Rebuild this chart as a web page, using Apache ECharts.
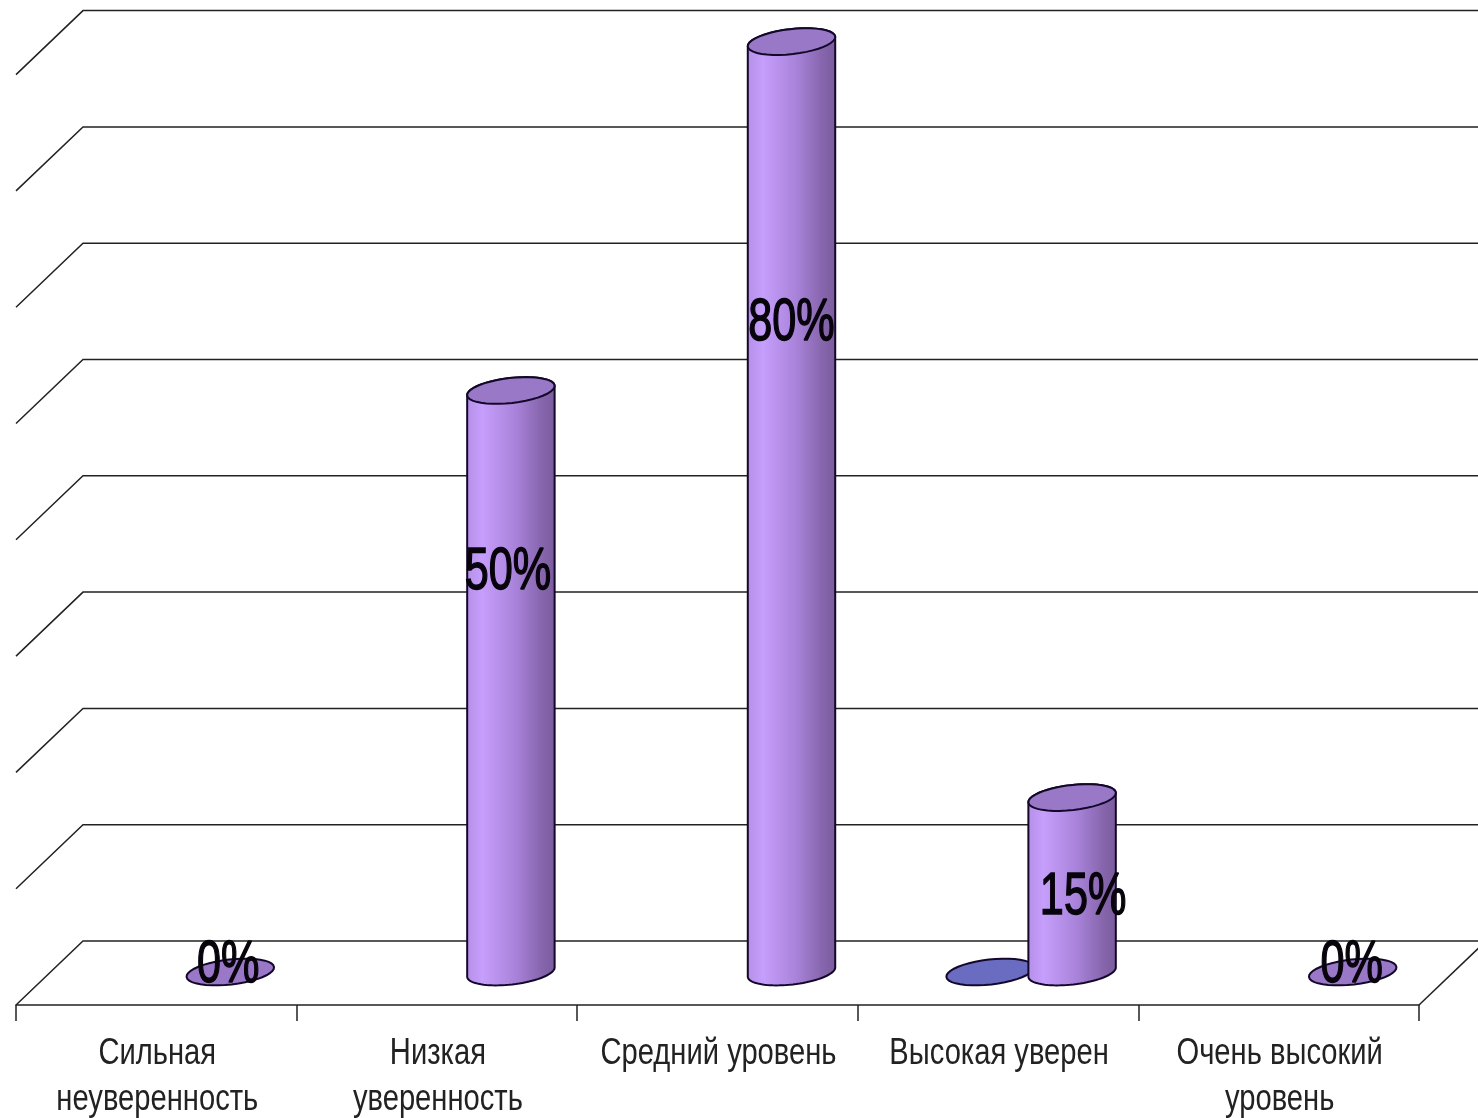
<!DOCTYPE html>
<html><head><meta charset="utf-8">
<style>html,body{margin:0;padding:0;background:#fff}#c{width:1478px;height:1118px}</style>
<script src="https://cdn.jsdelivr.net/npm/echarts@6/dist/echarts.min.js"></script>
</head><body><div id="c"></div>
<script>
const categories = ['Сильная\nнеуверенность','Низкая\nуверенность','Средний уровень','Высокая уверен','Очень высокий\nуровень'];
const purpleValues = [0,50,80,15,0];
const blueValues = [null,null,null,0,null];
const valueTicks = [0,10,20,30,40,50,60,70,80];
const purpleLabels = ['0%','50%','80%','15%','0%'];

const DX = 67, DY = -64, RX = 44, RY = 12.5, TILT = -6.5*Math.PI/180, MIDX = 33, MIDY = -33, SHIFT = 41;
const labelY = [965,572,323,897,965], labelDX = [-2,-3,0,11,-1];

function arc(cx,cy,a,b){
  const pts=[], n=40;
  for(let i=0;i<=n;i++){
    const t=a+(b-a)*i/n, c=Math.cos(t), s=Math.sin(t);
    pts.push([cx+RX*c*Math.cos(TILT)-RY*s*Math.sin(TILT), cy+RX*c*Math.sin(TILT)+RY*s*Math.cos(TILT)]);
  }
  return pts;
}
const bodyFill = {type:'linear',x:0,y:0,x2:1,y2:0,colorStops:[
  {offset:0,color:'#b48fe6'},{offset:.18,color:'#c69efc'},{offset:.55,color:'#a983da'},{offset:.85,color:'#8665ac'},{offset:1,color:'#7a5c9c'}]};

function cylinder(offset,topColor,withLabel){
  return function(params,api){
    const idx=api.value(0), v=api.value(1);
    const base=api.coord([idx,0]), top=api.coord([idx,v]);
    const cx=base[0]+MIDX+offset, by=base[1]+MIDY, ty=top[1]+MIDY;
    const stroke={stroke:'#14082a',lineWidth:2};
    const children=[];
    if(v>0){
      children.push({type:'polygon',shape:{points:arc(cx,by,0,Math.PI).concat(arc(cx,ty,Math.PI,2*Math.PI))},
        style:Object.assign({fill:bodyFill},stroke)});
    }
    children.push({type:'polygon',shape:{points:arc(cx,ty,0,2*Math.PI)},style:Object.assign({fill:topColor},stroke)});
    if(withLabel){
      children.push({type:'text',x:cx+labelDX[idx],y:labelY[idx],scaleX:.72,
        style:{text:purpleLabels[idx],align:'center',verticalAlign:'middle',
          font:'60px "Liberation Sans",sans-serif',fill:'#08040c',stroke:'#08040c',lineWidth:1.5}});
    }
    return {type:'group',children};
  };
}

const chart = echarts.init(document.getElementById('c'));
chart.setOption({
  animation:false,
  backgroundColor:'#fff',
  grid:{left:16,width:1403,top:74.6,height:930.4,outerBoundsMode:'none'},
  xAxis:{type:'category',data:categories,boundaryGap:true,
    axisLine:{lineStyle:{color:'#222',width:1.5}},
    axisTick:{show:true,length:16,interval:0,lineStyle:{color:'#222',width:1.5}},
    axisLabel:{show:false}},
  yAxis:{type:'value',min:0,max:80,interval:10,axisLine:{show:false},axisTick:{show:false},axisLabel:{show:false},splitLine:{show:false}},
  series:[
    {type:'custom',name:'walls',z:1,silent:true,data:valueTicks.map(v=>[0,v]),encode:{x:0,y:1},
      renderItem(params,api){
        const v=api.value(1), p=api.coord([0,v])[1], r=params.coordSys, x=r.x;
        const kids=[{type:'polyline',shape:{points:[[x,p],[x+DX,p+DY],[x+r.width+DX,p+DY]]},style:{fill:null,stroke:'#222',lineWidth:1.5}}];
        if(v===0) kids.push({type:'line',shape:{x1:x+r.width,y1:p,x2:x+r.width+DX,y2:p+DY},style:{stroke:'#222',lineWidth:1.5}});
        return {type:'group',children:kids};
      }},
    {type:'custom',name:'labels',z:2,silent:true,data:categories.map((c,i)=>[i,0]),encode:{x:0,y:1},
      renderItem(params,api){
        const i=api.value(0), p=api.coord([i,0]);
        return {type:'text',x:p[0]+1,y:p[1]+26,scaleX:.81,
          style:{text:categories[i],align:'center',verticalAlign:'top',lineHeight:46,
            font:'36px "Liberation Sans",sans-serif',fill:'#222'}};
      }},
    {type:'custom',name:'Ряд 1',z:3,data:blueValues.map((v,i)=>[i,v]),encode:{x:0,y:1},
      renderItem(p,api){ if(isNaN(api.value(1))) return null; return cylinder(-SHIFT,'#6a6cc2',false)(p,api);} },
    {type:'custom',name:'Ряд 2',z:4,data:purpleValues.map((v,i)=>[i,v]),encode:{x:0,y:1},
      renderItem:cylinder(SHIFT,'#9a78c8',true)}
  ]
});
</script></body></html>
